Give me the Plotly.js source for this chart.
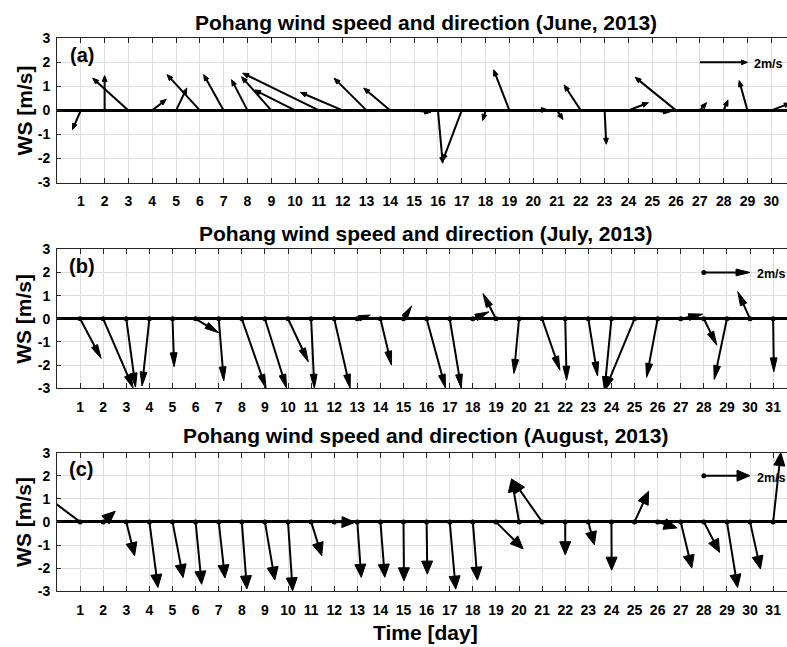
<!DOCTYPE html>
<html>
<head>
<meta charset="utf-8">
<script src="https://cdn.plot.ly/plotly-3.0.1.min.js"></script>
<style>
  html, body { margin: 0; padding: 0; background: #fff; }
  #chart { width: 787px; height: 647px; }
</style>
</head>
<body>
<div id="chart"></div>
<script>
// Daily wind vectors at Pohang, summer 2013.
// u = eastward component, v = northward component, both in m/s.
const juneDays = [1,2,3,4,5,6,7,8,9,10,11,12,13,14,15,16,17,18,19,20,21,22,23,24,25,26,27,28,29,30];
const juneU = [-0.35, 0.00, -1.50, 0.59, 0.45, -1.38, -0.84, -0.67, -1.25, -1.70,
               -3.20, -1.78, -1.36, -1.12, 0.70, 0.20, -0.80, -0.12, -0.66, 0.60,
               0.25, -0.70, 0.07, 0.84, 0.73, -1.72, 0.28, 0.18, -0.35, 0.80];
const juneV = [-0.80, 1.45, 1.34, 0.46, 0.93, 1.49, 1.49, 1.28, 1.40, 0.85,
               1.55, 0.75, 1.34, 0.93, -0.08, -2.20, -2.10, -0.42, 1.69, 0.03,
               -0.38, 1.06, -1.41, 0.32, -0.07, 1.38, 0.32, 0.44, 1.24, 0.30];

const julyDays = [1,2,3,4,5,6,7,8,9,10,11,12,13,14,15,16,17,18,19,20,21,22,23,24,25,26,27,28,29,30,31];
const julyU = [0.91, 1.30, 0.40, -0.32, 0.07, 1.00, 0.22, 1.05, 0.94, 0.88,
               0.14, 0.69, 0.56, 0.48, 0.35, 0.82, 0.50, 0.70, -0.56, -0.22,
               0.77, 0.06, 0.40, -0.30, -1.29, -0.48, 0.95, 0.56, -0.55, -0.53, 0.03];
const julyV = [-1.71, -3.00, -2.95, -2.90, -2.07, -0.60, -2.68, -3.00, -3.00, -1.86,
               -3.00, -3.00, 0.16, -2.00, 0.55, -3.00, -3.00, 0.30, 1.09, -2.36,
               -2.22, -2.65, -2.47, -3.10, -3.10, -2.53, 0.20, -1.14, -2.62, 1.17, -2.29];

const augDays = [1,2,3,4,5,6,7,8,9,10,11,12,13,14,15,16,17,18,19,20,21,22,23,24,25,26,27,28,29,30,31];
const augU = [-1.60, 0.52, 0.36, 0.37, 0.46, 0.26, 0.27, 0.22, 0.43, 0.20,
              0.46, 0.90, 0.17, 0.19, 0.02, 0.03, 0.26, 0.20, 1.18, -0.32,
              -1.28, 0.00, 0.26, 0.01, 0.61, 0.84, 0.48, 0.68, 0.46, 0.45, 0.33];
const augV = [1.20, 0.46, -1.46, -2.84, -2.41, -2.70, -2.43, -2.90, -2.52, -2.98,
              -1.46, -0.02, -2.40, -2.40, -2.55, -2.26, -2.91, -2.52, -1.17, 1.87,
              1.83, -1.42, -0.99, -2.09, 1.33, -0.26, -2.00, -1.32, -2.84, -2.04, 3.00];

const panelTitles = [
  'Pohang wind speed and direction (June, 2013)',
  'Pohang wind speed and direction (July, 2013)',
  'Pohang wind speed and direction (August, 2013)'
];
const panelTags = ['(a)', '(b)', '(c)'];
const yTicks = [-3, -2, -1, 0, 1, 2, 3];
const refSpeed = 2;
const refLabel = '2m/s';
const yLabel = 'WS [m/s]';
const xLabel = 'Time [day]';

// ---- figure geometry and styling ----
const W = 787, H = 647, L = 57;
const plotW = W - L;
const FONT = '"Liberation Sans", Arial, Helvetica, sans-serif';
const INK = '#000000';
const AXIS = '#262626';
const GRID = '#dedede';

const panels = [
  { days: juneDays, u: juneU, v: juneV, domain: [1 - 182.5 / H, 1 - 38.3 / H], xmax: 30.66,
    head: 6, half: 2.4, dots: false, refDay: 27, titleY: 22.2 },
  { days: julyDays, u: julyU, v: julyV, domain: [1 - 388.3 / H, 1 - 249.3 / H], xmax: 31.6,
    head: 14, half: 3.4, dots: true, refDay: 28, titleY: 233.3 },
  { days: augDays, u: augU, v: augV, domain: [1 - 591.2 / H, 1 - 452.6 / H], xmax: 31.6,
    head: 13, half: 5.5, dots: true, refDay: 28, titleY: 435.5 }
];

// Build shaft and head geometry for one arrow; head size is given in pixels
function addArrow(acc, x0, y0, u, v, kx, ky, headLen, headHalf) {
  const px = u * kx, py = v * ky;
  const len = Math.hypot(px, py);
  if (len === 0) return;
  const dx = px / len, dy = py / len;
  const hl = Math.min(headLen, 0.85 * len);
  const hw = headHalf * hl / headLen;
  const tx = x0 + u, ty = y0 + v;
  const bx = tx - hl * dx / kx, by = ty - hl * dy / ky;
  acc.sx.push(x0, bx + 0.3 * hl * dx / kx, null);
  acc.sy.push(y0, by + 0.3 * hl * dy / ky, null);
  const w1x = bx + (-dy) * hw / kx, w1y = by + dx * hw / ky;
  const w2x = bx - (-dy) * hw / kx, w2y = by - dx * hw / ky;
  acc.hx.push(tx, w1x, w2x, tx, null);
  acc.hy.push(ty, w1y, w2y, ty, null);
}

const traces = [];
const layout = {
  width: W, height: H,
  margin: { l: L, r: 0, t: 0, b: 0, pad: 0 },
  paper_bgcolor: '#ffffff',
  plot_bgcolor: '#ffffff',
  showlegend: false,
  font: { family: FONT, color: INK, size: 14, weight: 700 },
  annotations: []
};

panels.forEach((p, i) => {
  const n = i === 0 ? '' : String(i + 1);
  const xa = 'x' + n, ya = 'y' + n;
  const kx = plotW / p.xmax;
  const ky = (p.domain[1] - p.domain[0]) * H / 6;

  const acc = { sx: [], sy: [], hx: [], hy: [] };
  p.days.forEach((d, j) => addArrow(acc, d, 0, p.u[j], p.v[j], kx, ky, p.head, p.half));
  // reference arrow
  addArrow(acc, p.refDay, 2, refSpeed, 0, kx, ky, p.head, p.half);

  traces.push({
    type: 'scatter', mode: 'lines', xaxis: xa, yaxis: ya,
    x: acc.sx, y: acc.sy, connectgaps: false,
    line: { color: INK, width: 2 }, hoverinfo: 'skip'
  });
  traces.push({
    type: 'scatter', mode: 'lines', xaxis: xa, yaxis: ya,
    x: acc.hx, y: acc.hy, connectgaps: false, fill: 'toself',
    fillcolor: INK, line: { color: INK, width: 1 }, hoverinfo: 'skip'
  });
  if (p.dots) {
    traces.push({
      type: 'scatter', mode: 'markers', xaxis: xa, yaxis: ya,
      x: p.days.concat([p.refDay]), y: p.days.map(() => 0).concat([2]),
      marker: { color: INK, size: 5 }, cliponaxis: true, hoverinfo: 'skip'
    });
  }

  layout['xaxis' + n] = {
    domain: [0, 1], anchor: ya, range: [0, p.xmax],
    tickmode: 'array', tickvals: p.days, ticktext: p.days.map(String),
    ticks: 'inside', ticklen: 5, tickwidth: 1, tickcolor: AXIS,
    showline: true, linecolor: AXIS, linewidth: 1, mirror: 'ticks',
    showgrid: true, gridcolor: GRID, gridwidth: 1, zeroline: false,
    tickfont: { family: FONT, size: 14, color: INK, weight: 700 },
    ticklabelstandoff: 6, fixedrange: true
  };
  layout['yaxis' + n] = {
    domain: p.domain, anchor: xa, range: [-3, 3],
    tickmode: 'array', tickvals: yTicks, ticktext: yTicks.map(String),
    ticks: 'inside', ticklen: 4, tickwidth: 1, tickcolor: AXIS,
    showline: true, linecolor: AXIS, linewidth: 1, mirror: false,
    showgrid: true, gridcolor: GRID, gridwidth: 1,
    zeroline: true, zerolinecolor: INK, zerolinewidth: 3,
    tickfont: { family: FONT, size: 14, color: INK, weight: 700 },
    ticklabelstandoff: 3, fixedrange: true
  };

  // panel title
  layout.annotations.push({
    xref: 'paper', yref: 'paper', x: 0.505, y: 1 - p.titleY / H,
    xanchor: 'center', yanchor: 'middle', showarrow: false,
    text: panelTitles[i], font: { family: FONT, size: 21, color: INK, weight: 700 }
  });
  // panel tag
  layout.annotations.push({
    xref: xa, yref: ya, x: 0.45, y: 2.3, xanchor: 'left', yanchor: 'middle',
    showarrow: false, text: panelTags[i],
    font: { family: FONT, size: 20, color: INK, weight: 700 }
  });
  // y-axis label
  layout.annotations.push({
    xref: 'paper', yref: 'paper', x: (24 - L) / plotW,
    y: (p.domain[0] + p.domain[1]) / 2, xanchor: 'center', yanchor: 'middle',
    textangle: -90, showarrow: false, text: yLabel,
    font: { family: FONT, size: 21, color: INK, weight: 700 }
  });
  // reference arrow label
  layout.annotations.push({
    xref: xa, yref: ya, x: p.refDay + refSpeed + 0.2, y: 1.92,
    xanchor: 'left', yanchor: 'middle', showarrow: false, text: refLabel,
    font: { family: FONT, size: 12.5, color: INK, weight: 700 }
  });
});

// x-axis label under the bottom panel
layout.annotations.push({
  xref: 'paper', yref: 'paper', x: (425 - L) / plotW, y: 1 - 632 / H,
  xanchor: 'center', yanchor: 'middle', showarrow: false, text: xLabel,
  font: { family: FONT, size: 21, color: INK, weight: 700 }
});

Plotly.newPlot('chart', traces, layout, { staticPlot: true, displayModeBar: false });
</script>
</body>
</html>
